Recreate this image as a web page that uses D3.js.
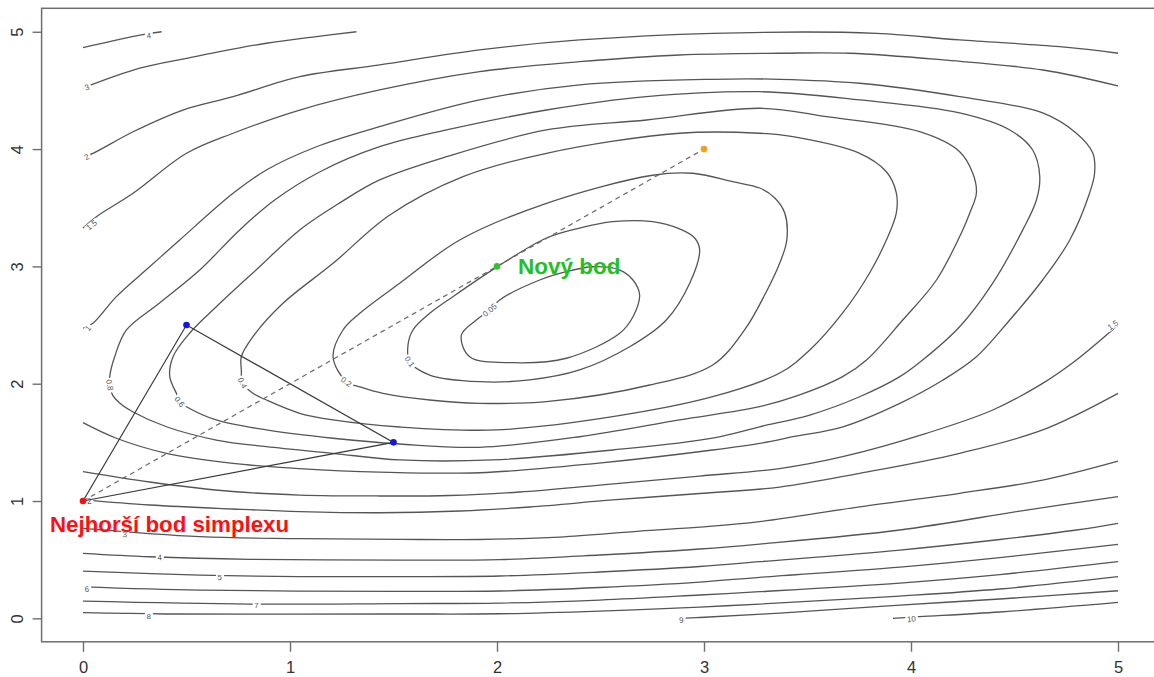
<!DOCTYPE html>
<html>
<head>
<meta charset="utf-8">
<script src="https://cdn.jsdelivr.net/npm/d3@7"></script>
<style>
  body { margin: 0; background: #fff; }
  text { font-family: 'Liberation Sans', Arial, sans-serif; }
</style>
</head>
<body>
<script>
// contour levels, each line as [x, y] in data units
const c005 = [[1.828,2.415],[1.868,2.230],[2.077,2.179],[2.335,2.217],[2.593,2.430],[2.657,2.571],[2.689,2.756],[2.657,2.884],[2.593,2.969],[2.462,2.997],[2.335,2.955],[2.206,2.884],[2.013,2.714],[1.965,2.628],[1.900,2.543]]
const c01 = [[1.578,2.188],[1.675,2.074],[1.916,2.017],[2.158,2.032],[2.399,2.117],[2.641,2.315],[2.818,2.543],[2.931,2.856],[2.979,3.140],[2.955,3.242],[2.882,3.319],[2.752,3.381],[2.559,3.381],[2.399,3.327],[2.239,3.242],[1.997,2.992],[1.787,2.742],[1.675,2.600],[1.594,2.458],[1.570,2.330]]
const c02 = [[1.272,2.017],[1.208,2.230],[1.256,2.458],[1.337,2.600],[1.530,2.856],[1.820,3.225],[2.239,3.538],[2.752,3.777],[2.945,3.794],[3.138,3.722],[3.269,3.668],[3.342,3.583],[3.390,3.455],[3.400,3.225],[3.366,3.029],[3.293,2.756],[3.196,2.458],[3.042,2.159],[2.738,1.989],[2.239,1.847],[1.916,1.833],[1.675,1.861],[1.449,1.918],[1.337,1.974]]
const c04 = [[1.482,3.438],[1.208,3.026],[0.966,2.685],[0.821,2.401],[0.765,2.230],[0.765,2.117],[0.771,2.006],[0.821,1.918],[0.886,1.861],[1.047,1.748],[1.208,1.691],[1.530,1.631],[1.997,1.606],[2.559,1.719],[3.042,1.889],[3.366,2.091],[3.511,2.287],[3.670,2.603],[3.800,2.944],[3.881,3.225],[3.929,3.455],[3.929,3.626],[3.881,3.807],[3.752,3.964],[3.429,4.106],[3.269,4.135],[2.882,4.135],[2.239,3.964],[1.836,3.765]]
const c06 = [[1.047,3.311],[0.853,2.997],[0.644,2.656],[0.515,2.430],[0.435,2.230],[0.419,2.060],[0.451,1.918],[0.467,1.847],[0.500,1.804],[0.644,1.691],[0.886,1.606],[1.208,1.535],[1.530,1.486],[1.916,1.458],[2.399,1.548],[2.882,1.691],[3.269,1.804],[3.462,1.904],[3.670,2.060],[3.785,2.202],[3.960,2.543],[4.123,2.884],[4.250,3.311],[4.284,3.455],[4.316,3.626],[4.298,3.796],[4.235,3.978],[4.042,4.148],[3.591,4.276],[3.269,4.348],[2.722,4.248],[2.239,4.163],[1.756,3.935],[1.433,3.737],[1.240,3.541]]
const c08 = [[0.757,3.311],[0.926,3.566],[1.143,3.805],[1.433,4.020],[1.756,4.163],[2.239,4.333],[2.722,4.447],[3.269,4.489],[3.752,4.419],[4.235,4.308],[4.477,4.163],[4.588,3.992],[4.622,3.765],[4.606,3.566],[4.540,3.311],[4.395,2.858],[4.235,2.486],[4.056,2.202],[3.946,2.060],[3.752,1.889],[3.511,1.733],[3.269,1.633],[3.042,1.537],[2.559,1.435],[1.979,1.350],[1.530,1.350],[1.206,1.407],[0.886,1.463],[0.644,1.520],[0.403,1.633],[0.240,1.761],[0.177,1.835],[0.143,1.903],[0.129,1.989],[0.129,2.060],[0.153,2.230],[0.210,2.458],[0.370,2.688],[0.564,2.969]]
const c1 = [[0,2.472],[0.048,2.515],[0.161,2.742],[0.322,2.997],[0.467,3.225],[0.725,3.623],[0.886,3.822],[1.128,4.020],[1.433,4.191],[1.916,4.419],[2.399,4.547],[3.042,4.595],[3.366,4.595],[3.752,4.561],[4.235,4.447],[4.636,4.308],[4.799,4.135],[4.878,3.967],[4.887,3.796],[4.863,3.626],[4.767,3.225],[4.636,2.884],[4.477,2.543],[4.316,2.230],[4.155,2.032],[3.946,1.833],[3.671,1.633],[3.430,1.548],[3.269,1.492],[3.042,1.435],[2.480,1.321],[1.916,1.241],[1.433,1.247],[1.047,1.277],[0.725,1.321],[0.403,1.407],[0.161,1.535],[0,1.668]]
const c15top = [[0,3.327],[0.065,3.424],[0.242,3.623],[0.5,3.964],[0.725,4.135],[1.047,4.333],[1.433,4.504],[1.916,4.660],[2.399,4.745],[2.882,4.802],[3.366,4.817],[3.704,4.817],[4.155,4.760],[4.638,4.674],[5.0,4.538]]
const c15low = [[5.0,2.500],[4.799,2.202],[4.636,2.003],[4.395,1.776],[4.074,1.577],[3.670,1.378],[3.366,1.277],[2.979,1.213],[2.496,1.136],[2.109,1.077],[1.771,1.047],[1.433,1.043],[1.047,1.051],[0.723,1.081],[0.322,1.162],[0,1.250]]
const c2top = [[0,3.933],[0.048,3.964],[0.242,4.148],[0.483,4.333],[0.725,4.447],[1.047,4.617],[1.433,4.717],[1.916,4.845],[2.399,4.930],[3.042,4.987],[3.833,4.987],[4.235,4.930],[4.718,4.873],[5.0,4.817]]
const c2low = [[5.0,1.918],[4.636,1.606],[4.235,1.407],[3.752,1.236],[3.366,1.119],[2.979,1.064],[2.559,1.009],[2.158,0.949],[1.820,0.915],[1.433,0.900],[1.047,0.910],[0.723,0.932],[0.322,0.966],[0,1.009]]
const c3top = [[0,4.52],[0.274,4.689],[0.5,4.774],[0.66,4.831],[0.886,4.902],[1.128,4.959],[1.321,5.0]]
const c3low = [[5.0,1.341],[4.636,1.179],[4.235,1.066],[3.752,0.951],[3.269,0.824],[2.979,0.778],[2.689,0.744],[2.303,0.693],[1.916,0.672],[1.530,0.673],[1.047,0.680],[0.564,0.696],[0,0.767]]
const c4top = [[0,4.865],[0.282,4.973],[0.38,5.0]]
const c4low = [[5.0,1.037],[4.558,0.923],[3.946,0.753],[3.269,0.633],[2.979,0.591],[2.496,0.540],[2.013,0.501],[1.530,0.497],[0.805,0.503],[0.322,0.525],[0,0.554]]
const c5 = [[5.0,0.810],[4.799,0.753],[4.429,0.672],[3.946,0.582],[3.269,0.483],[2.979,0.442],[2.496,0.395],[2.013,0.361],[1.530,0.356],[1.047,0.356],[0.564,0.369],[0,0.403]]
const c6 = [[5.0,0.631],[4.429,0.518],[3.946,0.437],[3.269,0.350],[2.979,0.309],[2.496,0.263],[2.013,0.233],[1.530,0.230],[0.564,0.241],[0,0.269]]
const c7 = [[5.0,0.483],[4.429,0.373],[3.946,0.301],[3.269,0.227],[2.979,0.199],[2.496,0.156],[2.013,0.130],[1.530,0.126],[0.805,0.122],[0,0.147]]
const c8 = [[5.0,0.355],[4.429,0.250],[3.946,0.190],[3.269,0.122],[2.979,0.096],[2.496,0.062],[2.013,0.039],[1.530,0.037],[0.403,0.037],[0,0.048]]
const c9 = [[5.0,0.235],[4.429,0.165],[3.946,0.113],[3.366,0.045],[2.979,0.007],[2.89,0]]
const c10 = [[5.0,0.136],[4.429,0.054],[4.042,0.014],[3.913,0]]

// label text, x, y, angle along the line
const contourLabels = [
    ['4', 0.318, 4.967, -8], ['3', 0.019, 4.527, -19], ['2', 0.018, 3.933, -28],
    ['1.5', 0.041, 3.353, -40], ['1', 0.024, 2.472, -50], ['0.8', 0.129, 1.989, 80],
    ['0.6', 0.467, 1.847, 53], ['0.4', 0.771, 2.006, 63], ['0.2', 1.272, 2.017, 35],
    ['0.1', 1.578, 2.188, 55], ['0.05', 1.965, 2.628, -40], ['1.5', 4.975, 2.500, -35],
    ['2', 0.03, 1.0, -5], ['3', 0.202, 0.716, -3], ['4', 0.370, 0.520, -2],
    ['5', 0.661, 0.355, 0], ['6', 0.019, 0.250, -3], ['7', 0.838, 0.113, 0],
    ['8', 0.317, 0.022, 0], ['9', 2.891, -0.014, -3], ['10', 4.002, -0.006, -4]
]

const simplexPts = [[0, 1], [0.5, 2.5], [1.5, 1.5]]
const newPoint = [2, 3]
const expansionPoint = [3, 4]
const xTicks = [0, 1, 2, 3, 4, 5]
const yTicks = [0, 1, 2, 3, 4, 5]

const width = 1154
const height = 677

const x = d3.scaleLinear().domain([-0.2, 5.2]).range([41.6, 1159.4])
const y = d3.scaleLinear().domain([-0.2, 5.2]).range([641.8, 8.3])

const svg = d3.select('body')
    .append('svg')
    .attr('width', width)
    .attr('height', height)

const contourLines = [
    {pts: c005, closed: true}, {pts: c01, closed: true}, {pts: c02, closed: true},
    {pts: c04, closed: true}, {pts: c06, closed: true}, {pts: c08, closed: true},
    {pts: c1}, {pts: c15top}, {pts: c15low}, {pts: c2top}, {pts: c2low},
    {pts: c3top}, {pts: c3low}, {pts: c4top}, {pts: c4low},
    {pts: c5}, {pts: c6}, {pts: c7}, {pts: c8}, {pts: c9}, {pts: c10}
]

const openLine = d3.line()
    .x(d => x(d[0]))
    .y(d => y(d[1]))
    .curve(d3.curveCatmullRom.alpha(0.5))

const closedLine = d3.line()
    .x(d => x(d[0]))
    .y(d => y(d[1]))
    .curve(d3.curveCatmullRomClosed.alpha(0.5))

svg.append('g')
    .selectAll('path')
    .data(contourLines)
    .join('path')
    .attr('d', d => (d.closed ? closedLine : openLine)(d.pts))
    .attr('fill', 'none')
    .attr('stroke', '#555')
    .attr('stroke-width', 1.3)

// labels sit in a gap of the line, like R's contour()
let labs = svg.append('g')
    .selectAll('g')
    .data(contourLabels)
    .join('g')
    .attr('transform', d => `translate(${x(d[1])},${y(d[2])}) rotate(${d[3]})`)

labs.append('rect').attr('fill', '#fff')
labs.append('text')
    .text(d => d[0])
    .attr('text-anchor', 'middle')
    .attr('dy', '0.35em')
    .attr('font-size', 8)
    .attr('fill', '#555')

labs.each(function () {
    const b = d3.select(this).select('text').node().getBBox()
    d3.select(this).select('rect')
        .attr('x', b.x - 1.5)
        .attr('y', b.y + 1)
        .attr('width', b.width + 3)
        .attr('height', b.height - 2)
})

// frame
svg.append('rect')
    .attr('x', x(-0.2))
    .attr('y', y(5.2))
    .attr('width', x(5.2) - x(-0.2))
    .attr('height', y(-0.2) - y(5.2))
    .attr('fill', 'none')
    .attr('stroke', '#6e6e6e')
    .attr('stroke-width', 1.5)

const xAxis = svg.append('g')
    .attr('transform', `translate(0,${y(-0.2)})`)
    .call(d3.axisBottom(x).tickValues(xTicks).tickSize(10).tickFormat(d3.format('d')))
xAxis.select('.domain').remove()
xAxis.attr('font-family', null).attr('font-size', null)
xAxis.selectAll('line').attr('stroke', '#6e6e6e').attr('stroke-width', 1.4)
xAxis.selectAll('text')
    .attr('y', 31.5)
    .attr('dy', 0)
    .attr('font-size', 16.5)
    .attr('fill', '#333')

const yAxis = svg.append('g')
    .attr('transform', `translate(${x(-0.2)},0)`)
    .call(d3.axisLeft(y).tickValues(yTicks).tickSize(9).tickFormat(d3.format('d')))
yAxis.select('.domain').remove()
yAxis.attr('font-family', null).attr('font-size', null)
yAxis.selectAll('line').attr('stroke', '#6e6e6e').attr('stroke-width', 1.4)
yAxis.selectAll('text')
    .attr('x', 0)
    .attr('dy', 0)
    .attr('text-anchor', 'middle')
    .attr('transform', 'translate(-18.3,0) rotate(-90)')
    .attr('font-size', 16.5)
    .attr('fill', '#333')

// simplex triangle and reflection line
svg.append('path')
    .datum(simplexPts)
    .attr('d', d3.line().x(d => x(d[0])).y(d => y(d[1])).curve(d3.curveLinearClosed))
    .attr('fill', 'none')
    .attr('stroke', '#3a3a3a')
    .attr('stroke-width', 1.2)

svg.append('line')
    .attr('x1', x(simplexPts[0][0])).attr('y1', y(simplexPts[0][1]))
    .attr('x2', x(expansionPoint[0])).attr('y2', y(expansionPoint[1]))
    .attr('stroke', '#6a6a6a')
    .attr('stroke-width', 1.2)
    .attr('stroke-dasharray', '5,4')

const dots = [
    {p: simplexPts[0], c: '#ee1111'},
    {p: simplexPts[1], c: '#1515e0'},
    {p: simplexPts[2], c: '#1515e0'},
    {p: newPoint, c: '#2ec42e'},
    {p: expansionPoint, c: '#f0a01e'}
]

svg.append('g')
    .selectAll('circle')
    .data(dots)
    .join('circle')
    .attr('cx', d => x(d.p[0]))
    .attr('cy', d => y(d.p[1]))
    .attr('r', 3.3)
    .attr('fill', d => d.c)

svg.append('text')
    .attr('x', x(newPoint[0]) + 21)
    .attr('y', y(newPoint[1]) + 8)
    .attr('font-size', 22.5)
    .attr('font-weight', 'bold')
    .attr('fill', '#22c022')
    .text('Nový bod')

svg.append('text')
    .attr('x', x(simplexPts[0][0]) - 33)
    .attr('y', y(simplexPts[0][1]) + 31)
    .attr('font-size', 22.3)
    .attr('font-weight', 'bold')
    .attr('fill', '#ff1010')
    .text('Nejhorší bod simplexu')
</script>
</body>
</html>
